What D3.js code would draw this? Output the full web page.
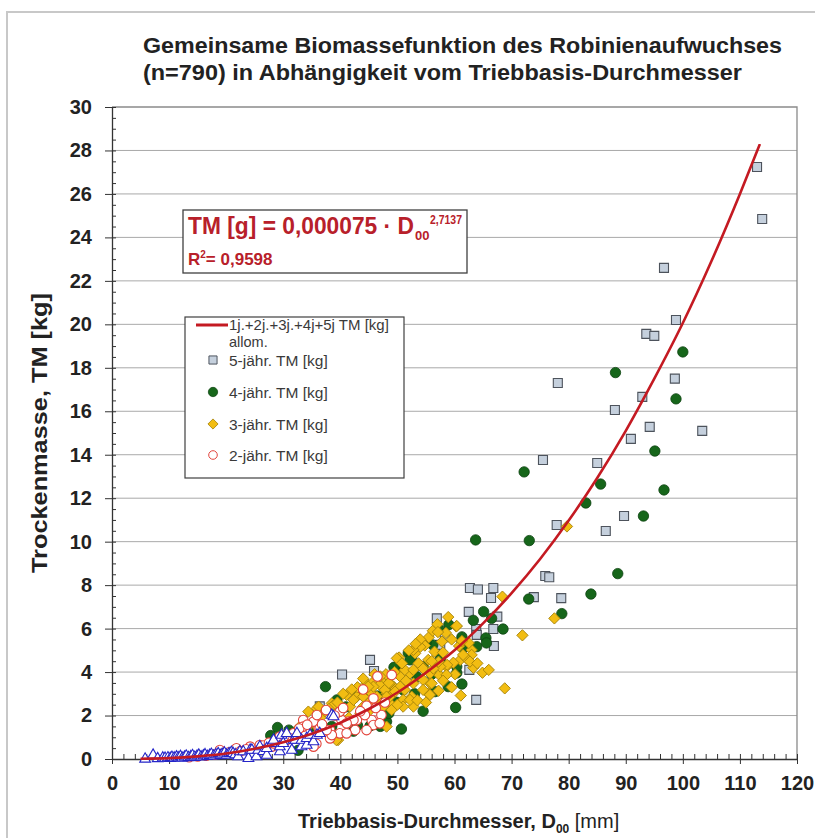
<!DOCTYPE html>
<html><head><meta charset="utf-8">
<script src="https://cdn.jsdelivr.net/npm/d3@7/dist/d3.min.js"></script>
<style>body{margin:0;background:#fff}svg{display:block}text{font-family:Arial,"Liberation Sans",sans-serif}</style>
</head><body><div id="chart"></div>
<script>
// ---------- data ----------
const titleLines = ["Gemeinsame Biomassefunktion des Robinienaufwuchses","(n=790) in Abhängigkeit vom Triebbasis-Durchmesser"];
const xTicks = [0,10,20,30,40,50,60,70,80,90,100,110,120];
const yTicks = [0,2,4,6,8,10,12,14,16,18,20,22,24,26,28,30];
const legendLabels = ["1j.+2j.+3j.+4j+5j TM [kg]","allom.","5-jähr. TM [kg]","4-jähr. TM [kg]","3-jähr. TM [kg]","2-jähr. TM [kg]"];
// fitted allometric curve (D00 mm, TM kg)
const fitD  = [5,10,15,20,25,30,35,40,45,50,55,60,65,70,75,80,85,90,95,100,105,110,113.5];
const fitTM = [0.01,0.04,0.12,0.25,0.47,0.77,1.16,1.67,2.3,3.06,3.97,5.0,6.24,7.63,9.2,10.97,12.93,15.1,17.5,20.06,22.9,26.0,28.3];
// 5-jähr. (squares)
const s5 = [[113.0,27.24],[113.9,24.85],[96.7,22.6],[98.8,20.2],[93.6,19.56],[95.0,19.47],[78.1,17.3],[98.6,17.5],[88.1,16.06],[92.9,16.66],[94.2,15.28],[103.4,15.1],[90.9,14.73],[75.5,13.76],[85.0,13.62],[77.9,10.77],[89.7,11.18],[86.5,10.49],[75.9,8.42],[76.6,8.36],[78.7,7.4],[73.9,7.45],[62.7,7.87],[64.1,7.8],[66.8,7.87],[66.4,7.41],[62.5,6.77],[67.5,6.55],[56.9,6.47],[66.8,5.98],[63.8,5.98],[63.9,5.71],[58.3,5.61],[57.5,5.25],[66.9,5.2],[62.6,4.1],[63.8,2.72],[45.2,4.56],[45.9,4.05],[40.3,3.89],[36.4,2.42],[61.2,5.36],[52.5,3.6],[48.0,3.0]];
// 4-jähr. (filled green circles)
const s4 = [[100.0,18.73],[88.2,17.78],[98.8,16.57],[95.1,14.17],[85.6,12.65],[96.7,12.38],[72.2,13.21],[83.0,11.78],[93.1,11.18],[73.1,10.05],[63.7,10.08],[88.6,8.53],[83.9,7.59],[73.0,7.36],[78.8,6.69],[65.1,6.78],[63.3,6.38],[66.5,6.47],[68.5,5.98],[57.3,5.96],[59.0,6.18],[61.3,5.62],[65.5,5.57],[65.6,5.34],[63.9,5.17],[61.5,5.12],[56.2,5.25],[58.9,3.33],[60.2,2.37],[61.3,3.45],[51.9,4.88],[52.5,4.71],[49.9,4.22],[54.5,4.25],[56.6,3.1],[60.4,3.96],[60.4,4.25],[55.0,5.34],[52.2,4.56],[53.4,3.79],[51.0,3.18],[49.0,3.33],[50.7,1.38],[49.9,2.61],[37.4,3.33],[29.0,1.45],[31.0,1.33],[27.8,1.08],[32.6,0.4],[42.3,1.28],[43.0,1.55],[39.4,2.72],[44.6,3.18],[42.9,3.1],[49.4,4.22],[45.2,1.52],[48.1,1.72],[46.4,3.5],[44.0,2.2],[46.5,2.9],[48.5,2.1],[47.0,1.5],[41.0,2.4],[53.0,3.0],[54.5,2.2],[56.0,3.9],[57.5,4.6],[38.5,1.5],[36.0,1.9],[35.0,1.5]];
// 3-jähr. (yellow diamonds)
const s3 = [[79.7,10.7],[68.4,7.47],[77.5,6.47],[71.9,5.69],[68.8,3.25],[64.9,3.97],[63.3,4.2],[61.1,2.92],[63.0,5.02],[62.5,5.34],[61.0,4.56],[58.6,4.25],[60.1,3.9],[57.3,3.87],[54.8,5.22],[56.5,4.94],[54.0,5.16],[50.3,4.67],[53.1,4.86],[54.3,4.25],[52.2,3.94],[50.5,3.79],[55.7,3.94],[52.8,3.48],[55.7,3.48],[57.2,3.14],[55.4,3.02],[52.5,2.87],[51.0,2.72],[52.8,2.41],[48.7,2.56],[48.1,3.02],[49.3,3.33],[47.2,3.64],[63.0,4.79],[62.1,4.63],[59.8,4.43],[58.7,4.33],[57.5,4.25],[58.6,3.87],[54.5,3.64],[56.0,3.48],[51.3,4.1],[51.3,3.18],[52.2,2.72],[51.0,2.41],[49.0,2.26],[48.7,2.87],[53.7,4.4],[52.8,4.1],[55.4,4.56],[54.5,4.16],[56.3,4.16],[52.8,5.02],[61.5,4.79],[62.7,4.48],[57.2,4.48],[50.5,3.33],[49.6,3.1],[54.5,3.18],[55.7,2.95],[41.1,2.95],[42.9,2.87],[44.6,3.48],[45.8,3.56],[46.9,3.41],[47.8,3.18],[48.1,2.87],[46.9,2.56],[48.1,1.49],[39.6,0.87],[38.5,2.56],[35.9,2.33],[32.9,1.49],[32.4,1.26],[41.7,2.41],[44.0,2.41],[44.9,2.56],[44.0,2.87],[45.5,3.02],[46.4,2.87],[42.3,2.72],[45.8,3.33],[44.9,3.33],[48.7,3.48],[34.4,2.18],[36.2,2.41],[39.3,0.87],[49.9,4.63],[38.8,2.48],[55.5,5.6],[56.2,5.9],[57.8,5.4],[58.5,5.8],[59.5,5.5],[60.3,6.1],[57.0,6.2],[54.0,5.5],[53.2,5.3],[52.0,5.0],[50.8,4.4],[49.5,4.0],[48.0,3.9],[47.0,3.8],[46.0,3.9],[44.0,3.7],[43.0,3.3],[42.0,3.2],[40.5,3.0],[39.5,2.6],[38.0,2.3],[37.0,2.1],[36.5,1.9],[35.5,1.6],[34.0,1.4],[33.0,1.2],[41.5,1.9],[43.5,2.1],[45.0,2.2],[47.5,2.4],[50.0,2.5],[53.5,2.7],[55.0,2.6],[58.0,3.6],[59.5,3.3],[64.0,4.4],[66.0,4.1],[60.8,5.2],[56.0,4.5],[58.0,4.9],[51.5,3.6],[48.5,3.5],[58.9,6.53],[57.1,5.84],[60.4,6.12],[61.3,5.43]];
// 2-jähr. (open red circles)
const s2 = [[49.0,3.87],[44.6,2.45],[42.9,1.79],[41.4,1.72],[40.2,1.79],[38.2,0.95],[36.2,1.41],[35.3,1.72],[33.5,1.79],[33.8,1.26],[35.0,0.87],[35.8,0.7],[38.2,1.33],[39.9,1.18],[31.8,1.18],[31.2,0.95],[45.5,1.79],[45.8,1.56],[47.2,2.02],[45.8,2.79],[44.3,2.02],[42.6,1.33],[30.0,0.87],[28.9,0.64],[28.0,0.57],[44.6,1.33],[46.9,1.64],[41.1,1.18],[42.3,1.79],[38.5,1.1],[39.9,2.18],[33.5,1.49],[30.6,0.87],[35.3,0.57],[34.7,0.87],[28.3,0.72],[25.9,0.64],[24.2,0.57],[21.8,0.49],[18.9,0.41],[29.4,1.03],[36.4,1.41],[35.9,2.02],[37.6,1.33],[41.1,1.64],[13.5,0.08],[15.0,0.12],[16.5,0.15],[18.0,0.2],[19.5,0.26],[20.5,0.31],[22.5,0.36],[23.5,0.45],[26.5,0.62],[27.5,0.75],[30.2,1.05],[32.8,1.4],[34.2,1.58],[36.8,1.6],[37.5,2.25],[39.0,2.0],[40.5,2.35],[43.5,2.2],[46.2,2.35],[47.8,2.6],[44.0,3.2],[46.5,3.8]];
// 1-jähr. (open blue triangles)
const s1 = [[5.8,0.0],[7.2,0.18],[8.0,0.02],[8.9,0.05],[9.3,0.04],[9.8,0.06],[10.2,0.03],[10.5,0.08],[10.9,0.05],[11.3,0.1],[11.6,0.06],[12.0,0.12],[12.3,0.04],[12.7,0.09],[13.0,0.14],[13.4,0.07],[13.8,0.11],[14.1,0.16],[14.5,0.08],[14.9,0.13],[15.2,0.18],[15.6,0.1],[16.0,0.15],[16.3,0.2],[16.7,0.12],[17.1,0.17],[17.4,0.22],[17.8,0.14],[18.2,0.2],[18.6,0.25],[19.0,0.16],[19.3,0.22],[19.7,0.28],[20.1,0.18],[20.5,0.25],[20.9,0.31],[21.2,0.26],[21.6,0.2],[22.1,0.11],[22.4,0.34],[23.0,0.34],[23.9,0.03],[24.2,0.41],[24.5,0.41],[25.3,0.11],[25.6,0.41],[25.9,0.57],[26.5,0.35],[27.1,0.18],[27.1,0.49],[28.0,0.72],[28.3,0.87],[29.4,0.34],[29.4,0.57],[29.7,1.10],[30.0,0.72],[30.6,1.18],[31.5,0.41],[31.8,0.87],[32.1,0.87],[32.4,1.18],[33.2,0.57],[33.2,0.87],[34.1,0.64],[34.1,0.95],[34.7,1.10],[35.3,0.80],[35.9,1.10],[36.4,1.18],[38.5,2.02],[38.8,1.95]];

// ---------- drawing ----------
const W = 815, H = 838;
const svg = d3.select("#chart").append("svg").attr("width", W).attr("height", H);
const x = d3.scaleLinear().domain([0,120]).range([112,797]);
const y = d3.scaleLinear().domain([0,30]).range([759,107]);
const FONT = 'Arial,"Liberation Sans",sans-serif';

// outer chart frame
svg.append("rect").attr("x",7).attr("y",12).attr("width",W).attr("height",H)
  .attr("fill","none").attr("stroke","#c8c8c8").attr("stroke-width",2);

// title
titleLines.forEach((t,i)=>{
  svg.append("text").attr("x",143).attr("y",[53,80][i]).text(t)
    .attr("font-size",22).attr("font-weight","bold").attr("fill","#222")
    .attr("textLength",[639,599][i]).attr("lengthAdjust","spacingAndGlyphs");
});

// gridlines
svg.append("g").selectAll("line").data(yTicks.filter(v=>v>0 && v<30)).join("line")
  .attr("x1",x(0)).attr("x2",x(120)).attr("y1",d=>y(d)).attr("y2",d=>y(d))
  .attr("stroke","#a9a9a9").attr("stroke-width",1);
// plot frame top/right
svg.append("path").attr("d",`M${x(0)},${y(30)}H${x(120)}V${y(0)}`)
  .attr("fill","none").attr("stroke","#8a8a8a").attr("stroke-width",1.3);

// y axis
const yMinor = d3.range(0,30.01,0.5).filter(v=>v%2!==0);
svg.append("g").attr("transform",`translate(${x(0)},0)`)
  .call(d3.axisLeft(y).tickValues(yMinor).tickSize(-4).tickSizeOuter(0).tickFormat(""))
  .call(g=>g.select(".domain").remove())
  .selectAll("line").attr("stroke","#333");
const ya = svg.append("g").attr("transform",`translate(${x(0)},0)`)
  .call(d3.axisLeft(y).tickValues(yTicks).tickSize(7).tickSizeOuter(0).tickPadding(13).tickFormat(d3.format("d")));
ya.select(".domain").attr("stroke","#333").attr("stroke-width",1.3);
ya.selectAll(".tick line").attr("x1",4).attr("stroke","#333");
ya.selectAll(".tick text").attr("font-family",FONT).attr("font-size",20).attr("font-weight","bold").attr("fill","#222");

// x axis
const xMinor = d3.range(2,120,2).filter(v=>v%10!==0);
svg.append("g").attr("transform",`translate(0,${y(0)})`)
  .call(d3.axisBottom(x).tickValues(xMinor).tickSize(-5).tickSizeOuter(0).tickFormat(""))
  .call(g=>g.select(".domain").remove())
  .selectAll("line").attr("stroke","#333");
const xa = svg.append("g").attr("transform",`translate(0,${y(0)})`)
  .call(d3.axisBottom(x).tickValues(xTicks).tickSize(5).tickSizeOuter(0).tickPadding(12).tickFormat(d3.format("d")));
xa.select(".domain").attr("stroke","#333").attr("stroke-width",1.3);
xa.selectAll(".tick line").attr("y1",-5).attr("stroke","#333");
xa.selectAll(".tick text").attr("font-family",FONT).attr("font-size",20).attr("font-weight","bold").attr("fill","#222");

// axis titles
const xt = svg.append("text").attr("x",298).attr("y",828).attr("fill","#222").attr("font-size",20);
xt.append("tspan").attr("font-weight","bold").text("Triebbasis-Durchmesser, D");
xt.append("tspan").attr("font-weight","bold").attr("font-size",12).attr("dy",5).text("00");
xt.append("tspan").attr("dy",-5).text(" [mm]");
svg.append("text").attr("transform","translate(47,433) rotate(-90)").attr("text-anchor","middle")
  .attr("font-size",22).attr("font-weight","bold").attr("fill","#222")
  .attr("textLength",280).attr("lengthAdjust","spacingAndGlyphs").text("Trockenmasse, TM [kg]");

// markers
const sym = (type,size)=>d3.symbol().type(type).size(size)();
const series = [
  {data:s5, path:sym(d3.symbolSquare,81), rot:0, fill:"#c5d0dd", stroke:"#4d535c", sw:1.1},
  {data:s4, path:sym(d3.symbolCircle,85), rot:0, fill:"#16661a", stroke:"#0c4210", sw:0.8},
  {data:s3, path:sym(d3.symbolSquare,64), rot:45, fill:"#f2bd12", stroke:"#a8850c", sw:0.9},
  {data:s2, path:sym(d3.symbolCircle,72), rot:0, fill:"#ffffff", stroke:"#e2443c", sw:1.1},
  {data:s1, path:sym(d3.symbolTriangle,50), rot:0, fill:"#ffffff", stroke:"#2525c8", sw:1.1}
];
series.forEach(s=>{
  svg.append("g").selectAll("path").data(s.data).join("path")
    .attr("d",s.path)
    .attr("transform",d=>`translate(${x(d[0])},${y(d[1])}) rotate(${s.rot})`)
    .attr("fill",s.fill).attr("stroke",s.stroke).attr("stroke-width",s.sw);
});

// fit line
const fit = fitD.map((d,i)=>[d,fitTM[i]]);
svg.append("path").datum(fit)
  .attr("d",d3.line().x(d=>x(d[0])).y(d=>y(d[1])).curve(d3.curveMonotoneX))
  .attr("fill","none").attr("stroke","#c41a22").attr("stroke-width",2.6);

// equation box
svg.append("rect").attr("x",183).attr("y",210).attr("width",284).attr("height",63)
  .attr("fill","#fff").attr("stroke","#404040").attr("stroke-width",1.3);
const RED = "#b8202a";
svg.append("text").attr("x",188).attr("y",234).attr("fill",RED).attr("font-size",23).attr("font-weight","bold")
  .attr("textLength",226).attr("lengthAdjust","spacingAndGlyphs").text("TM [g] = 0,000075 · D");
svg.append("text").attr("x",415).attr("y",240).attr("fill",RED).attr("font-size",13).attr("font-weight","bold").text("00");
svg.append("text").attr("x",430).attr("y",224).attr("fill",RED).attr("font-size",13).attr("font-weight","bold")
  .attr("textLength",32).attr("lengthAdjust","spacingAndGlyphs").text("2,7137");
const r2 = svg.append("text").attr("x",188).attr("y",265).attr("fill",RED).attr("font-size",17).attr("font-weight","bold");
r2.append("tspan").text("R");
r2.append("tspan").attr("font-size",10).attr("dy",-7).text("2");
r2.append("tspan").attr("dy",7).text("= 0,9598");

// legend
const lg = svg.append("g");
lg.append("rect").attr("x",185).attr("y",317).attr("width",219).attr("height",161)
  .attr("fill","#fff").attr("stroke","#404040").attr("stroke-width",1.2);
lg.append("line").attr("x1",196).attr("x2",228).attr("y1",325).attr("y2",325).attr("stroke","#c41a22").attr("stroke-width",3);
const lt = (t,yy,fs)=>lg.append("text").attr("x",229).attr("y",yy).attr("font-size",fs||15.5).attr("fill","#3a3a3a").text(t);
lt(legendLabels[0],330,15); lt(legendLabels[1],347,14.5);
const legY = [360,392,424,455];
[0,1,2,3].forEach(i=>{
  const s = series[i];
  lg.append("path").attr("d",s.path).attr("transform",`translate(213,${legY[i]}) rotate(${s.rot}) scale(0.9)`)
    .attr("fill",s.fill).attr("stroke",s.stroke).attr("stroke-width",s.sw);
  lt(legendLabels[i+2],legY[i]+6);
});
</script></body></html>
